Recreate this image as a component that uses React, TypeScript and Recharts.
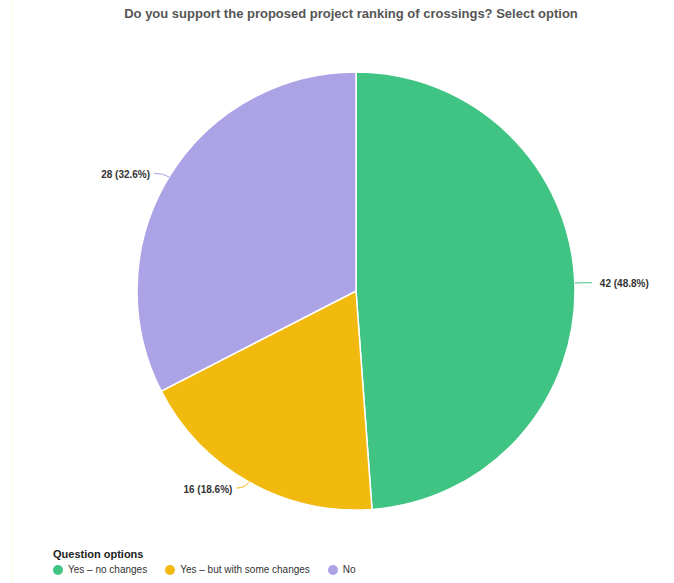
import React from 'react';
import { PieChart, Pie, Cell, Legend } from 'recharts';

const title = 'Do you support the proposed project ranking of crossings? Select option';
const categories = ['Yes – no changes', 'Yes – but with some changes', 'No'];
const counts = [42, 16, 28];
const colors = ['#40C483', '#F2B90F', '#ABA3E5'];
const legendTitle = 'Question options';

const data = categories.map((name, i) => ({ name, value: counts[i] }));

const RADIAN = Math.PI / 180;
const FONT = '"Liberation Sans", Arial, Helvetica, sans-serif';

const renderLabel = (props: any) => {
  const { cx, cy, midAngle, outerRadius, value, percent, index } = props;
  const cos = Math.cos(-midAngle * RADIAN);
  const sin = Math.sin(-midAngle * RADIAN);
  const sx = cx + outerRadius * cos;
  const sy = cy + outerRadius * sin;
  const mx = cx + (outerRadius + 7) * cos;
  const my = cy + (outerRadius + 7) * sin;
  const right = cos >= 0;
  const ex = mx + (right ? 10 : -9);
  const ey = my;
  const tx = ex + (right ? 8 : -4);
  const color = colors[index % colors.length];
  return (
    <g>
      <path d={`M${sx},${sy} Q${mx},${my} ${ex},${ey}`} stroke={color} strokeWidth={1} fill="none" />
      <text x={tx} y={ey + 1} textAnchor={right ? 'start' : 'end'} dominantBaseline="central"
        style={{ fontFamily: FONT, fontSize: 10, fontWeight: 700, fill: '#333' }}>
        {`${value} (${(percent * 100).toFixed(1)}%)`}
      </text>
    </g>
  );
};

const LegendContent = () => (
  <div style={{ fontFamily: FONT }}>
    <div style={{ fontSize: 11, fontWeight: 700, color: '#222', lineHeight: '14px' }}>{legendTitle}</div>
    <div style={{ display: 'flex', alignItems: 'center', marginTop: 3 }}>
      {categories.map((c, i) => (
        <div key={c} style={{ display: 'flex', alignItems: 'center', marginRight: 18 }}>
          <span style={{ width: 10, height: 10, borderRadius: 5, background: colors[i], display: 'inline-block', marginRight: 5 }} />
          <span style={{ fontSize: 10, color: '#333' }}>{c}</span>
        </div>
      ))}
    </div>
  </div>
);

export default function App() {
  return (
    <div style={{ position: 'absolute', left: 0, top: 0, width: 674, height: 583, background: '#fff', overflow: 'hidden' }}>
      <div style={{ position: 'absolute', left: 12, top: 0, width: 1, height: 583, background: '#fdfbe4' }} />
      <div style={{ position: 'absolute', left: 0, top: 6, width: 702, textAlign: 'center', fontFamily: FONT, fontSize: 13, fontWeight: 700, color: '#555' }}>
        {title}
      </div>
      <PieChart width={674} height={583} margin={{ top: 0, right: 0, bottom: 0, left: 0 }} style={{ position: 'absolute', left: 0, top: 0 }}>
        <Pie
          data={data}
          dataKey="value"
          nameKey="name"
          cx={356}
          cy={291}
          outerRadius={219}
          startAngle={90}
          endAngle={-270}
          stroke="#fff"
          strokeWidth={1.5}
          label={renderLabel}
          labelLine={false}
          isAnimationActive={false}
        >
          {data.map((d, i) => (
            <Cell key={d.name} fill={colors[i]} />
          ))}
        </Pie>
        <Legend content={<LegendContent />} wrapperStyle={{ position: 'absolute', left: 53, top: 547, width: 400 }} />
      </PieChart>
    </div>
  );
}
